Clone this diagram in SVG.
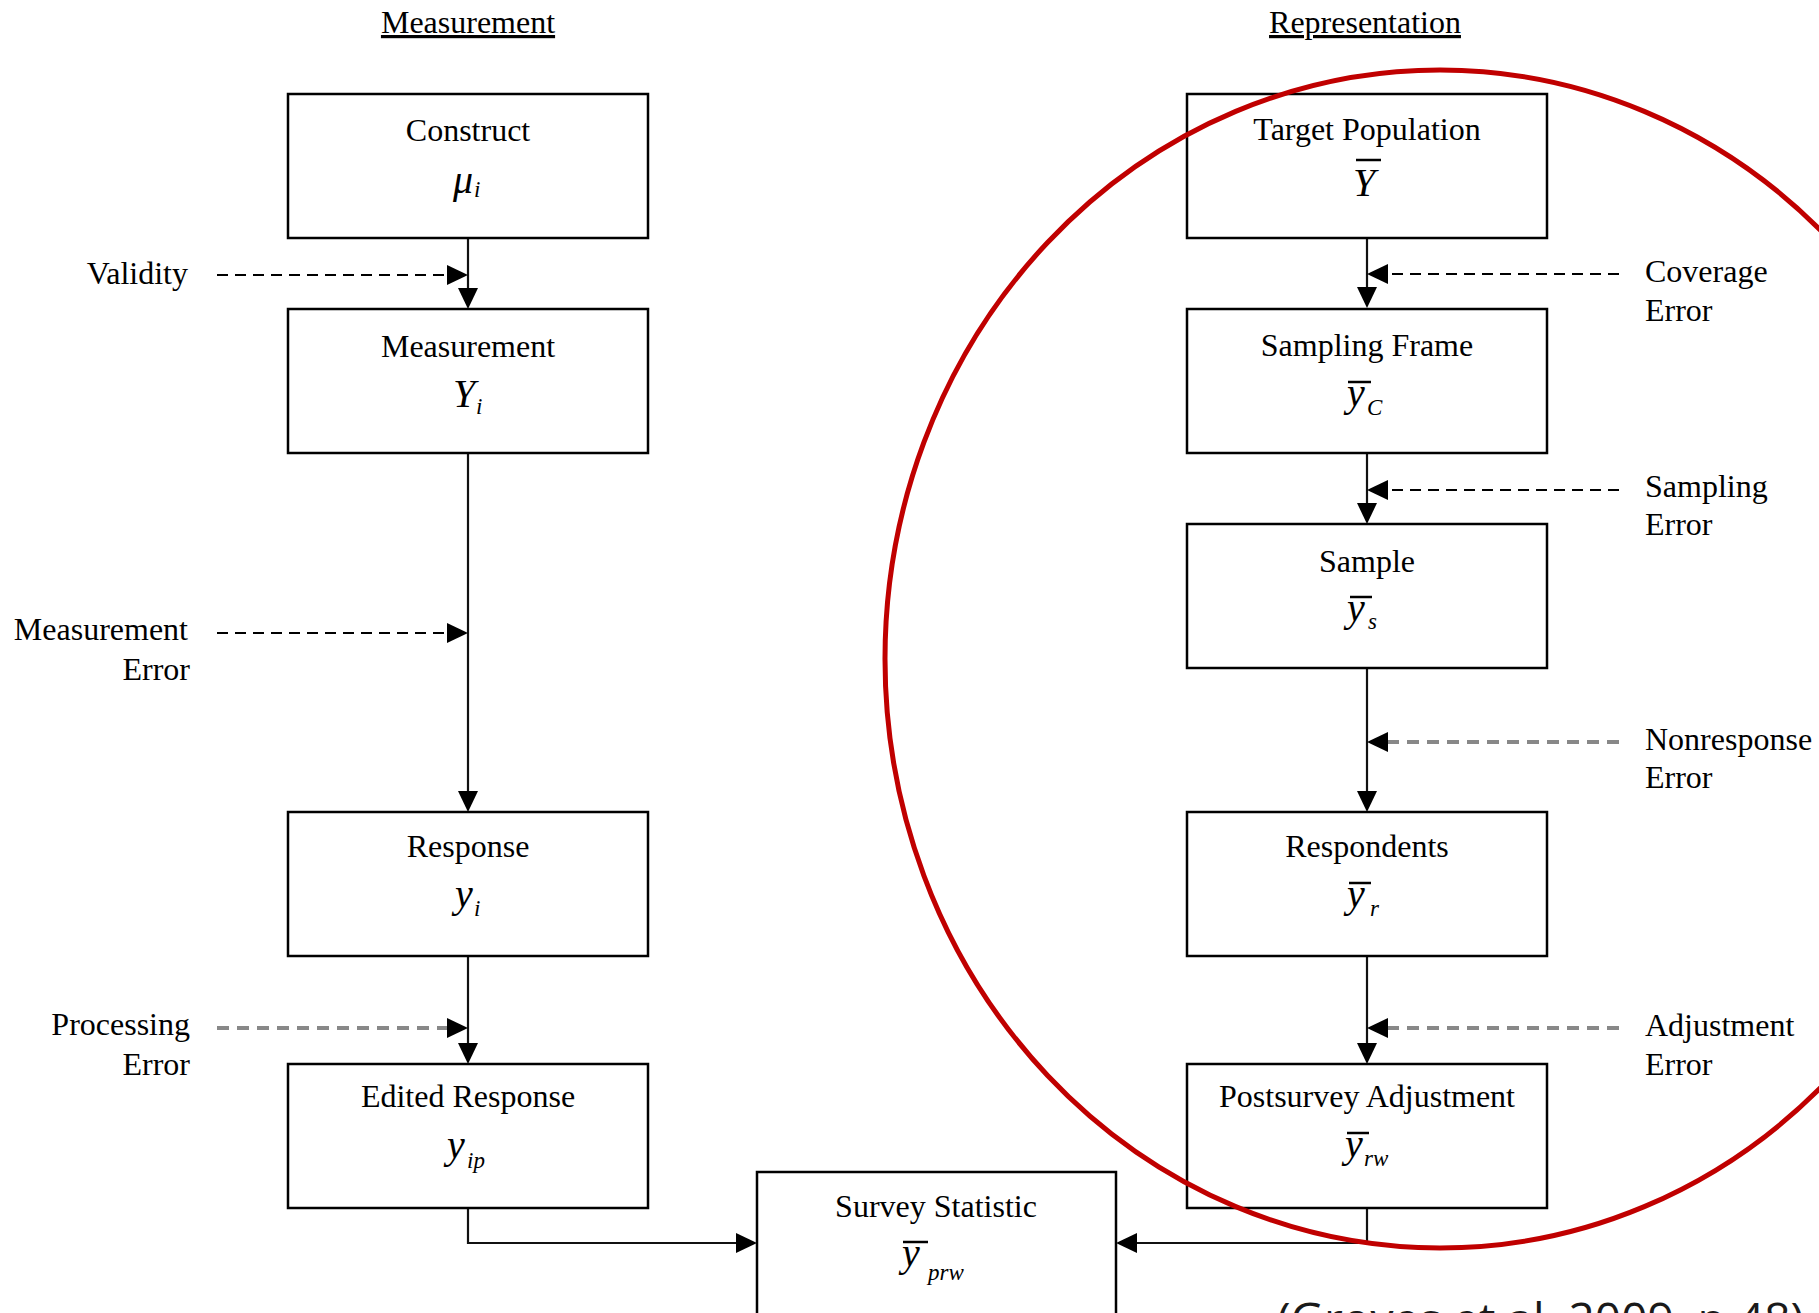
<svg xmlns="http://www.w3.org/2000/svg" width="1819" height="1313" viewBox="0 0 1819 1313">
<style>
.box{fill:#fff;stroke:#000;stroke-width:2.5}
.t{font-family:"Liberation Serif","Times New Roman",serif;font-size:32px;fill:#000}
.c{text-anchor:middle}
.r{text-anchor:end}
.m{font-family:"Liberation Serif","Times New Roman",serif;font-style:italic;font-size:40px;fill:#000}
.sub{font-size:23px}
.bar{stroke:#000;stroke-width:2.5}
.hdr{text-decoration:underline}
.ln{fill:none;stroke:#111;stroke-width:2.2}
.dk{fill:none;stroke:#000;stroke-width:2;stroke-dasharray:11 7}
.gr{fill:none;stroke:#888;stroke-width:4;stroke-dasharray:12 8}
</style>
<defs>
<marker id="ah" markerWidth="21" markerHeight="20" refX="0" refY="10" orient="auto" markerUnits="userSpaceOnUse">
<path d="M0,0 L21,10 L0,20 Z" fill="#000"/>
</marker>
</defs>
<rect width="1819" height="1313" fill="#fff"/>

<text class="t c hdr" x="468" y="33">Measurement</text>
<text class="t c hdr" x="1365" y="33">Representation</text>

<g id="connectors">
<path class="ln" d="M468,238 V288" marker-end="url(#ah)"/>
<path class="ln" d="M468,453 V791" marker-end="url(#ah)"/>
<path class="ln" d="M468,956 V1043" marker-end="url(#ah)"/>
<path class="ln" d="M468,1208 V1243 H736" marker-end="url(#ah)"/>
<path class="ln" d="M1367,238 V287" marker-end="url(#ah)"/>
<path class="ln" d="M1367,453 V503" marker-end="url(#ah)"/>
<path class="ln" d="M1367,668 V791" marker-end="url(#ah)"/>
<path class="ln" d="M1367,956 V1043" marker-end="url(#ah)"/>
<path class="ln" d="M1367,1208 V1243 H1137" marker-end="url(#ah)"/>
<path class="dk" d="M217,275 H447" marker-end="url(#ah)"/>
<path class="dk" d="M217,633 H447" marker-end="url(#ah)"/>
<path class="gr" d="M217,1028 H447" marker-end="url(#ah)"/>
<path class="dk" d="M1619,274 H1388" marker-end="url(#ah)"/>
<path class="dk" d="M1619,490 H1388" marker-end="url(#ah)"/>
<path class="gr" d="M1619,742 H1388" marker-end="url(#ah)"/>
<path class="gr" d="M1619,1028 H1388" marker-end="url(#ah)"/>
</g>

<g id="error-labels">
<text class="t r" x="188" y="284">Validity</text>
<text class="t r" x="188" y="640">Measurement</text>
<text class="t r" x="190" y="680">Error</text>
<text class="t r" x="190" y="1035">Processing</text>
<text class="t r" x="190" y="1075">Error</text>
<text class="t" x="1645" y="282">Coverage</text>
<text class="t" x="1645" y="321">Error</text>
<text class="t" x="1645" y="497">Sampling</text>
<text class="t" x="1645" y="535">Error</text>
<text class="t" x="1645" y="750">Nonresponse</text>
<text class="t" x="1645" y="788">Error</text>
<text class="t" x="1645" y="1036">Adjustment</text>
<text class="t" x="1645" y="1075">Error</text>
</g>

<g id="construct">
<rect class="box" x="288" y="94" width="360" height="144"/>
<text class="t c" x="468" y="141">Construct</text>
<text class="m" x="453" y="193" font-size="36">μ<tspan class="sub" x="474" y="197">i</tspan></text>
</g>
<g id="measurement">
<rect class="box" x="288" y="309" width="360" height="144"/>
<text class="t c" x="468" y="357">Measurement</text>
<text class="m" x="453" y="407">Y<tspan class="sub" x="476" y="414">i</tspan></text>
</g>
<g id="response">
<rect class="box" x="288" y="812" width="360" height="144"/>
<text class="t c" x="468" y="857">Response</text>
<text class="m" x="455" y="907">y<tspan class="sub" x="474" y="916">i</tspan></text>
</g>
<g id="edited-response">
<rect class="box" x="288" y="1064" width="360" height="144"/>
<text class="t c" x="468" y="1107">Edited Response</text>
<text class="m" x="447" y="1158">y<tspan class="sub" x="467" y="1168">ip</tspan></text>
</g>

<g id="target-population">
<rect class="box" x="1187" y="94" width="360" height="144"/>
<text class="t c" x="1367" y="140">Target Population</text>
<text class="m" x="1353" y="196">Y</text>
<line class="bar" x1="1356" y1="160" x2="1381" y2="160"/>
</g>
<g id="sampling-frame">
<rect class="box" x="1187" y="309" width="360" height="144"/>
<text class="t c" x="1367" y="356">Sampling Frame</text>
<text class="m" x="1347" y="406">y<tspan class="sub" x="1367" y="415">C</tspan></text>
<line class="bar" x1="1348" y1="382" x2="1371" y2="382"/>
</g>
<g id="sample">
<rect class="box" x="1187" y="524" width="360" height="144"/>
<text class="t c" x="1367" y="572">Sample</text>
<text class="m" x="1347" y="621">y<tspan class="sub" x="1368" y="629">s</tspan></text>
<line class="bar" x1="1350" y1="597" x2="1372" y2="597"/>
</g>
<g id="respondents">
<rect class="box" x="1187" y="812" width="360" height="144"/>
<text class="t c" x="1367" y="857">Respondents</text>
<text class="m" x="1347" y="907">y<tspan class="sub" x="1370" y="916">r</tspan></text>
<line class="bar" x1="1349" y1="883" x2="1371" y2="883"/>
</g>
<g id="postsurvey-adjustment">
<rect class="box" x="1187" y="1064" width="360" height="144"/>
<text class="t c" x="1367" y="1107">Postsurvey Adjustment</text>
<text class="m" x="1345" y="1157">y<tspan class="sub" x="1364" y="1166">rw</tspan></text>
<line class="bar" x1="1347" y1="1133" x2="1369" y2="1133"/>
</g>
<g id="survey-statistic">
<rect class="box" x="757" y="1172" width="359" height="150"/>
<text class="t c" x="936" y="1217">Survey Statistic</text>
<text class="m" x="902" y="1266">y<tspan class="sub" x="928" y="1280">prw</tspan></text>
<line class="bar" x1="903" y1="1242" x2="928" y2="1242"/>
</g>

<ellipse cx="1440" cy="659" rx="555" ry="589" fill="none" stroke="#C00000" stroke-width="5"/>

<text x="1277" y="1336" font-family="'Open Sans','Noto Sans',sans-serif" font-size="46" fill="#1a1a1a">(Groves et al. 2009, p.48)</text>
</svg>
